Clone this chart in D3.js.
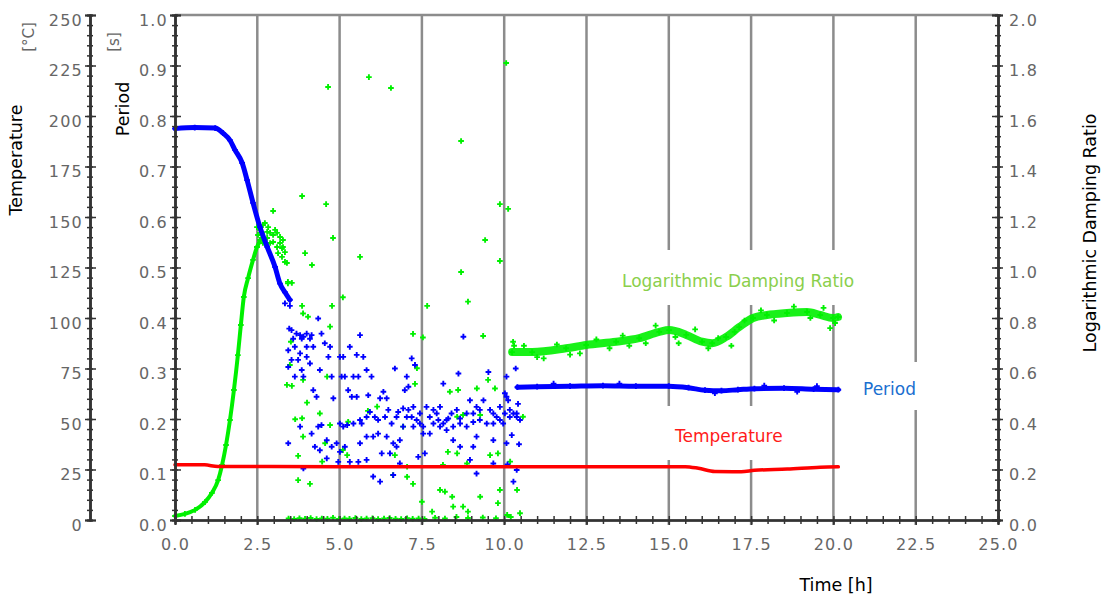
<!DOCTYPE html>
<html>
<head>
<meta charset="utf-8">
<script src="https://cdn.jsdelivr.net/npm/d3@7"></script>
<style>
  body { margin: 0; background: #fff; }
  text { font-family: "DejaVu Sans", sans-serif; }
</style>
</head>
<body>
<svg id="chart" width="1104" height="600"></svg>
<script>
// Time axis ticks [h]
const timeTicks = [0, 2.5, 5, 7.5, 10, 12.5, 15, 17.5, 20, 22.5, 25];

// Temperature [°C], drawn as a line
const tempT = [0, 0.9, 1.3, 5, 10, 15.5, 15.9, 16.4, 17.2, 17.6, 18.6, 19.6, 20.15];
const tempV = [27.4, 27.3, 26.5, 26.4, 26.4, 26.4, 25.6, 24.0, 23.9, 24.6, 25.2, 26.1, 26.3];

// Period [s]: cooling curve, scattered middle part, steady band
const periodCurveT = [0, 0.6, 1.22, 1.46, 1.67, 1.82, 2.04, 2.19, 2.37, 2.58, 2.80, 3.04, 3.19, 3.34, 3.49];
const periodCurveV = [0.775, 0.777, 0.776, 0.766, 0.752, 0.733, 0.707, 0.673, 0.628, 0.580, 0.541, 0.501, 0.468, 0.451, 0.436];

const periodScatter = [
  [3.34,0.429],[3.49,0.424],[3.47,0.379],[3.54,0.376],[3.69,0.369],[3.80,0.366],[3.90,0.363],[4.00,0.369],
  [4.10,0.359],[4.15,0.366],[3.85,0.359],[3.59,0.359],[3.44,0.336],[3.64,0.343],[3.80,0.330],[4.00,0.343],
  [4.20,0.343],[4.35,0.399],[4.45,0.369],[4.55,0.350],[4.66,0.323],[4.71,0.343],[3.54,0.317],[3.74,0.317],
  [4.00,0.323],[4.10,0.310],[3.85,0.297],[3.64,0.284],[3.90,0.284],[3.44,0.303],[4.40,0.297],[4.20,0.257],
  [4.30,0.244],[4.76,0.284],[4.81,0.241],[5.06,0.284],[5.11,0.323],[5.16,0.284],[5.01,0.323],[5.31,0.343],
  [5.52,0.327],[5.62,0.366],[5.72,0.323],[5.26,0.257],[5.37,0.244],[5.52,0.244],[5.42,0.284],[5.57,0.284],
  [5.82,0.297],[5.97,0.284],[5.87,0.247],[6.23,0.241],[6.33,0.254],[6.43,0.241],[6.48,0.218],[6.38,0.204],
  [5.92,0.214],[6.07,0.204],[6.17,0.198],[5.82,0.204],[5.67,0.191],[5.62,0.152],[5.82,0.165],[6.02,0.165],
  [6.17,0.171],[6.43,0.165],[6.63,0.152],[6.83,0.158],[6.73,0.204],[6.58,0.191],[6.78,0.214],[6.93,0.221],
  [7.09,0.218],[7.24,0.224],[7.19,0.320],[7.29,0.307],[7.04,0.284],[7.09,0.264],[6.98,0.257],[6.68,0.300],
  [7.19,0.204],[7.34,0.198],[7.44,0.191],[7.54,0.185],[7.64,0.224],[7.74,0.204],[7.85,0.218],[7.95,0.211],
  [8.05,0.224],[8.15,0.270],[8.25,0.198],[8.40,0.211],[8.56,0.218],[8.61,0.290],[8.66,0.201],[8.76,0.363],
  [8.86,0.211],[8.96,0.237],[9.06,0.211],[9.16,0.224],[9.26,0.218],[9.37,0.237],[9.52,0.293],[9.57,0.218],
  [9.67,0.211],[9.77,0.204],[9.87,0.224],[9.97,0.191],[10.02,0.251],[10.07,0.284],[10.12,0.237],[10.17,0.218],
  [10.28,0.211],[10.38,0.204],[10.48,0.198],[10.23,0.168],[10.07,0.152],[9.67,0.158],[9.16,0.165],[9.06,0.145],
  [8.66,0.145],[8.45,0.158],[8.25,0.178],[8.05,0.185],[7.74,0.171],[7.59,0.132],[7.24,0.185],[6.93,0.185],
  [6.73,0.145],[6.53,0.132],[6.28,0.132],[6.02,0.086],[6.23,0.076],[6.63,0.089],[6.83,0.112],[7.39,0.125],
  [7.54,0.171],[9.16,0.092],[9.67,0.112],[10.28,0.076],[10.38,0.099],[5.01,0.135],[4.91,0.152],[5.16,0.145],
  [5.31,0.115],[5.57,0.115],[5.82,0.119],[4.76,0.145],[4.61,0.158],[4.40,0.138],[4.25,0.145],[4.15,0.171],
  [4.35,0.185],[4.45,0.188],[3.80,0.185],[3.44,0.152],[3.90,0.102],[4.61,0.122],[4.96,0.115],[5.11,0.185],
  [5.01,0.191],[5.23,0.188],[5.42,0.191],[5.62,0.198],[7.04,0.204],[7.44,0.211],[7.85,0.191],[8.00,0.198],
  [8.15,0.191],[8.30,0.201],[8.45,0.185],[8.66,0.191],[8.86,0.185],[9.06,0.194],[9.26,0.198],[9.47,0.191],
  [9.67,0.191],[9.87,0.198],[10.02,0.211],[10.17,0.204],[10.38,0.211],[8.96,0.119],[10.07,0.244],
  [10.35,0.300],[10.42,0.230],[10.45,0.150],[10.10,0.110],
  // noise along the steady band
  [11.5,0.270],[13.5,0.270],[16.4,0.251],[18.9,0.254],[19.5,0.265],[17.9,0.266]
];

const periodBandT = [10.4, 11, 12, 13, 14, 15, 15.6, 16.1, 16.6, 17.1, 17.6, 18.5, 19.4, 20.15];
const periodBandV = [0.263, 0.264, 0.265, 0.266, 0.265, 0.265, 0.262, 0.257, 0.256, 0.258, 0.260, 0.261, 0.259, 0.258];

// Logarithmic damping ratio: rising curve, cluster and scatter, steady band
const ldrCurveT = [0, 0.30, 0.61, 0.91, 1.12, 1.31, 1.43, 1.55, 1.67, 1.79, 1.91, 2.00, 2.09, 2.22, 2.37, 2.49, 2.64];
const ldrCurveV = [0.016, 0.024, 0.040, 0.071, 0.107, 0.158, 0.218, 0.297, 0.396, 0.515, 0.653, 0.772, 0.883, 0.958, 1.030, 1.081, 1.117];

const ldrScatter = [
  [2.49,1.160],[2.58,1.149],[2.67,1.168],[2.80,1.141],[2.89,1.137],[2.98,1.129],[3.10,1.137],[3.19,1.121],
  [3.28,1.109],[2.58,1.109],[2.49,1.081],[2.67,1.097],[2.89,1.097],[3.10,1.081],[3.25,1.077],[3.34,1.061],
  [3.25,1.042],[3.34,1.022],[3.40,1.018],[3.13,1.057],[2.98,1.101],[2.80,1.117],[2.73,1.176],[2.64,1.137],
  [3.04,1.149],[2.83,1.160],[2.52,1.129],[3.19,1.097],[3.28,1.081],[3.43,0.943],[3.55,0.939],
  [4.65,1.715],[5.89,1.754],[6.56,1.711],[10.06,1.810],[8.69,1.501],[3.86,1.283],[4.59,1.251],[9.42,1.109],
  [9.87,1.251],[10.12,1.232],[9.87,1.026],[8.69,0.982],[4.80,1.117],[3.95,1.057],[4.16,1.010],[5.62,1.042],
  [2.98,1.224],[3.43,0.937],[5.10,0.882],[4.77,0.848],[3.86,0.848],[3.89,0.818],[4.04,0.805],[7.66,0.848],
  [8.90,0.865],[4.71,0.766],[7.23,0.737],[7.53,0.723],[9.36,0.729],[3.52,0.706],[3.49,0.614],[3.40,0.535],
  [3.55,0.531],[3.89,0.555],[4.62,0.568],[7.35,0.601],[7.29,0.539],[8.35,0.508],[8.60,0.515],[9.17,0.521],
  [9.51,0.555],[9.72,0.521],[4.01,0.465],[5.86,0.432],[6.14,0.449],[3.65,0.399],[3.86,0.403],[4.40,0.422],
  [4.71,0.376],[5.26,0.389],[6.93,0.370],[8.57,0.409],[8.75,0.416],[9.27,0.416],[10.57,0.409],[3.89,0.330],
  [3.74,0.254],[4.56,0.304],[4.47,0.231],[5.10,0.277],[5.23,0.257],[6.68,0.257],[8.29,0.270],[8.57,0.264],
  [9.57,0.257],[9.81,0.264],[10.18,0.231],[8.14,0.218],[8.87,0.224],[7.05,0.211],[6.62,0.178],[7.05,0.171],
  [7.23,0.143],[3.74,0.158],[4.10,0.143],[8.05,0.119],[8.20,0.112],[8.42,0.092],[9.27,0.092],[9.87,0.119],
  [10.39,0.119],[7.50,0.072],[7.81,0.033],[8.45,0.053],[8.75,0.053],[8.90,0.033],[9.81,0.067],[10.48,0.027],
  [10.09,0.020],
  // row of points at zero
  [3.45,0.006],[3.62,0.004],[3.78,0.007],[3.95,0.005],[4.12,0.008],[4.3,0.004],[4.46,0.006],[4.63,0.005],
  [4.8,0.009],[4.98,0.004],[5.15,0.006],[5.3,0.005],[5.48,0.008],[5.66,0.004],[5.82,0.006],[6.0,0.007],
  [6.17,0.004],[6.35,0.006],[6.52,0.008],[6.7,0.005],[6.87,0.004],[7.05,0.007],[7.22,0.005],[7.4,0.006],
  [7.58,0.004],[7.9,0.009],[8.2,0.006],[8.55,0.012],[8.9,0.008],[9.35,0.010],[9.75,0.007],[10.2,0.012],
  // spread along the steady band
  [10.27,0.706],[10.30,0.690],[10.6,0.690],[11.0,0.645],[11.2,0.640],[11.6,0.695],[12.0,0.655],[12.3,0.660],
  [12.8,0.715],[13.2,0.680],[13.6,0.730],[13.8,0.690],[14.3,0.700],[14.6,0.770],[15.2,0.725],[15.3,0.700],
  [15.8,0.755],[16.2,0.680],[16.5,0.720],[16.9,0.690],[17.0,0.745],[17.3,0.790],[17.8,0.830],[18.2,0.790],
  [18.8,0.845],[19.3,0.800],[19.7,0.840],[19.9,0.760],[20.05,0.780]
];

const ldrBandT = [10.24, 10.85, 11.88, 12.49, 13.40, 14.10, 14.71, 15.01, 15.53, 16.01, 16.32, 16.74, 17.14, 17.56, 17.98, 18.59, 19.20, 19.60, 19.99, 20.14];
const ldrBandV = [0.665, 0.665, 0.680, 0.693, 0.706, 0.720, 0.745, 0.752, 0.733, 0.706, 0.700, 0.725, 0.764, 0.800, 0.812, 0.820, 0.824, 0.812, 0.800, 0.804];

const svg = d3.select("#chart");

// Scales
const x = d3.scaleLinear().domain([0, 25]).range([175, 998]);
const yT = d3.scaleLinear().domain([0, 250]).range([520, 15]);
const yP = d3.scaleLinear().domain([0, 1]).range([520, 15]);
const yL = d3.scaleLinear().domain([0, 2]).range([520, 15]);

const BLUE = "#0000ff", GREEN = "#00f000", RED = "#ff0000";
const AXIS = "#333", GRID = "#8c8c8c", LABEL = "#666";

// Vertical grid lines
svg.append("g").selectAll("line")
    .data(timeTicks.slice(1, -1))
    .enter().append("line")
    .attr("x1", d => x(d)).attr("x2", d => x(d))
    .attr("y1", 15).attr("y2", 525)
    .attr("stroke", GRID).attr("stroke-width", 2.5);

// top frame
svg.append("line")
    .attr("x1", x(0)).attr("x2", x(25)).attr("y1", yP(1)).attr("y2", yP(1))
    .attr("stroke", GRID).attr("stroke-width", 2.5);

// White boxes behind the series labels
const boxes = [[612, 250, 254, 55], [855, 362, 75, 48], [665, 406, 135, 54]];
svg.append("g").selectAll("rect")
    .data(boxes)
    .enter().append("rect")
    .attr("x", d => d[0]).attr("y", d => d[1])
    .attr("width", d => d[2]).attr("height", d => d[3])
    .attr("fill", "#fff");

// Series
const plus = d3.symbol().type(d3.symbolCross).size(18);

function drawLine(t, v, ys, color, width, opacity) {
    const pts = t.map((d, i) => [d, v[i]]);
    svg.append("path")
        .datum(pts)
        .attr("fill", "none")
        .attr("stroke", color)
        .attr("stroke-width", width)
        .attr("stroke-opacity", opacity)
        .attr("stroke-linejoin", "round")
        .attr("stroke-linecap", "round")
        .attr("d", d3.line().x(d => x(d[0])).y(d => ys(d[1])).curve(d3.curveMonotoneX));
    return pts;
}

function drawMarks(pts, ys, color) {
    svg.append("g").selectAll("path")
        .data(pts)
        .enter().append("path")
        .attr("transform", d => "translate(" + x(d[0]) + "," + ys(d[1]) + ")")
        .attr("d", plus)
        .attr("fill", color);
}

// damping ratio
const ldrCurve = drawLine(ldrCurveT, ldrCurveV, yL, GREEN, 4, 1);
drawMarks(ldrCurve, yL, GREEN);
const ldrBand = drawLine(ldrBandT, ldrBandV, yL, GREEN, 8, 0.9);
drawMarks(ldrBand, yL, GREEN);
drawMarks(ldrScatter, yL, GREEN);

// period
const pCurve = drawLine(periodCurveT, periodCurveV, yP, BLUE, 5, 1);
drawMarks(pCurve, yP, BLUE);
drawMarks(periodScatter, yP, BLUE);
const pBand = drawLine(periodBandT, periodBandV, yP, BLUE, 5, 1);
drawMarks(pBand, yP, BLUE);

// temperature
drawLine(tempT, tempV, yT, RED, 3.5, 1);

// Axes: ticks crossing the axis line on both sides
function styleAxis(g) {
    g.selectAll(".domain").attr("stroke", AXIS).attr("stroke-width", 2);
    g.selectAll(".tick line").attr("stroke", AXIS).attr("stroke-width", 1.5);
    g.selectAll("text")
        .attr("fill", LABEL)
        .style("font-size", "16px")
        .style("letter-spacing", "1.2px")
        .style("font-family", "'DejaVu Sans', sans-serif");
}

function vAxis(px, scale, major, minor, fmt, side) {
    const g = svg.append("g").attr("transform", "translate(" + px + ",0)");
    // minor ticks, both sides
    g.append("g").call(d3.axisLeft(scale).tickValues(minor).tickSize(3).tickFormat("")).call(styleAxis);
    g.append("g").call(d3.axisRight(scale).tickValues(minor).tickSize(3).tickFormat("")).call(styleAxis);
    // major ticks with labels
    const lab = side === "left" ? d3.axisLeft(scale) : d3.axisRight(scale);
    g.append("g").call(lab.tickValues(major).tickSize(5).tickPadding(side === "left" ? 2 : 6).tickFormat(fmt))
        .call(styleAxis)
        .selectAll("text").attr("dy", 10);
    const other = side === "left" ? d3.axisRight(scale) : d3.axisLeft(scale);
    g.append("g").call(other.tickValues(major).tickSize(6).tickFormat("")).call(styleAxis);
    return g;
}

vAxis(90, yT, d3.range(0, 251, 25), d3.range(0, 251, 5), d3.format("d"), "left");
vAxis(175, yP, d3.range(0, 1.001, 0.1), d3.range(0, 1.001, 0.02), d3.format(".1f"), "left");
vAxis(998, yL, d3.range(0, 2.001, 0.2), d3.range(0, 2.001, 0.04), d3.format(".1f"), "right");

// bottom axis
const gx = svg.append("g").attr("transform", "translate(0,520)");
gx.append("g").call(d3.axisBottom(x).tickValues(d3.range(0, 25.001, 0.5)).tickSize(4).tickFormat("")).call(styleAxis);
gx.append("g").call(d3.axisTop(x).tickValues(d3.range(0, 25.001, 0.5)).tickSize(4).tickFormat("")).call(styleAxis);
gx.append("g").call(d3.axisBottom(x).tickValues(timeTicks).tickSize(5).tickPadding(14).tickFormat(d3.format(".1f")))
    .call(styleAxis);

// Axis titles
function vTitle(txt, cx, cy, color, size) {
    svg.append("text")
        .attr("transform", "translate(" + cx + "," + cy + ") rotate(-90)")
        .attr("text-anchor", "middle")
        .attr("fill", color)
        .style("font-size", size + "px")
        .text(txt);
}
vTitle("Temperature", 22, 160, "#000", 17.5);
vTitle("[°C]", 34, 37, LABEL, 15);
vTitle("Period", 129, 109, "#000", 17.5);
vTitle("[s]", 119, 42, LABEL, 15);
vTitle("Logarithmic Damping Ratio", 1096, 233, "#000", 17.5);

svg.append("text")
    .attr("x", 836).attr("y", 591)
    .attr("text-anchor", "middle")
    .attr("fill", "#000")
    .style("font-size", "17.5px")
    .text("Time [h]");

// Series labels
const seriesLabels = [
    ["Logarithmic Damping Ratio", 622, 287, "#8acf4c"],
    ["Period", 863, 395, "#1a6fd0"],
    ["Temperature", 675, 442, "#ff1a1a"]
];
svg.append("g").selectAll("text")
    .data(seriesLabels)
    .enter().append("text")
    .attr("x", d => d[1]).attr("y", d => d[2])
    .attr("fill", d => d[3])
    .style("font-size", "17px")
    .text(d => d[0]);
</script>
</body>
</html>
